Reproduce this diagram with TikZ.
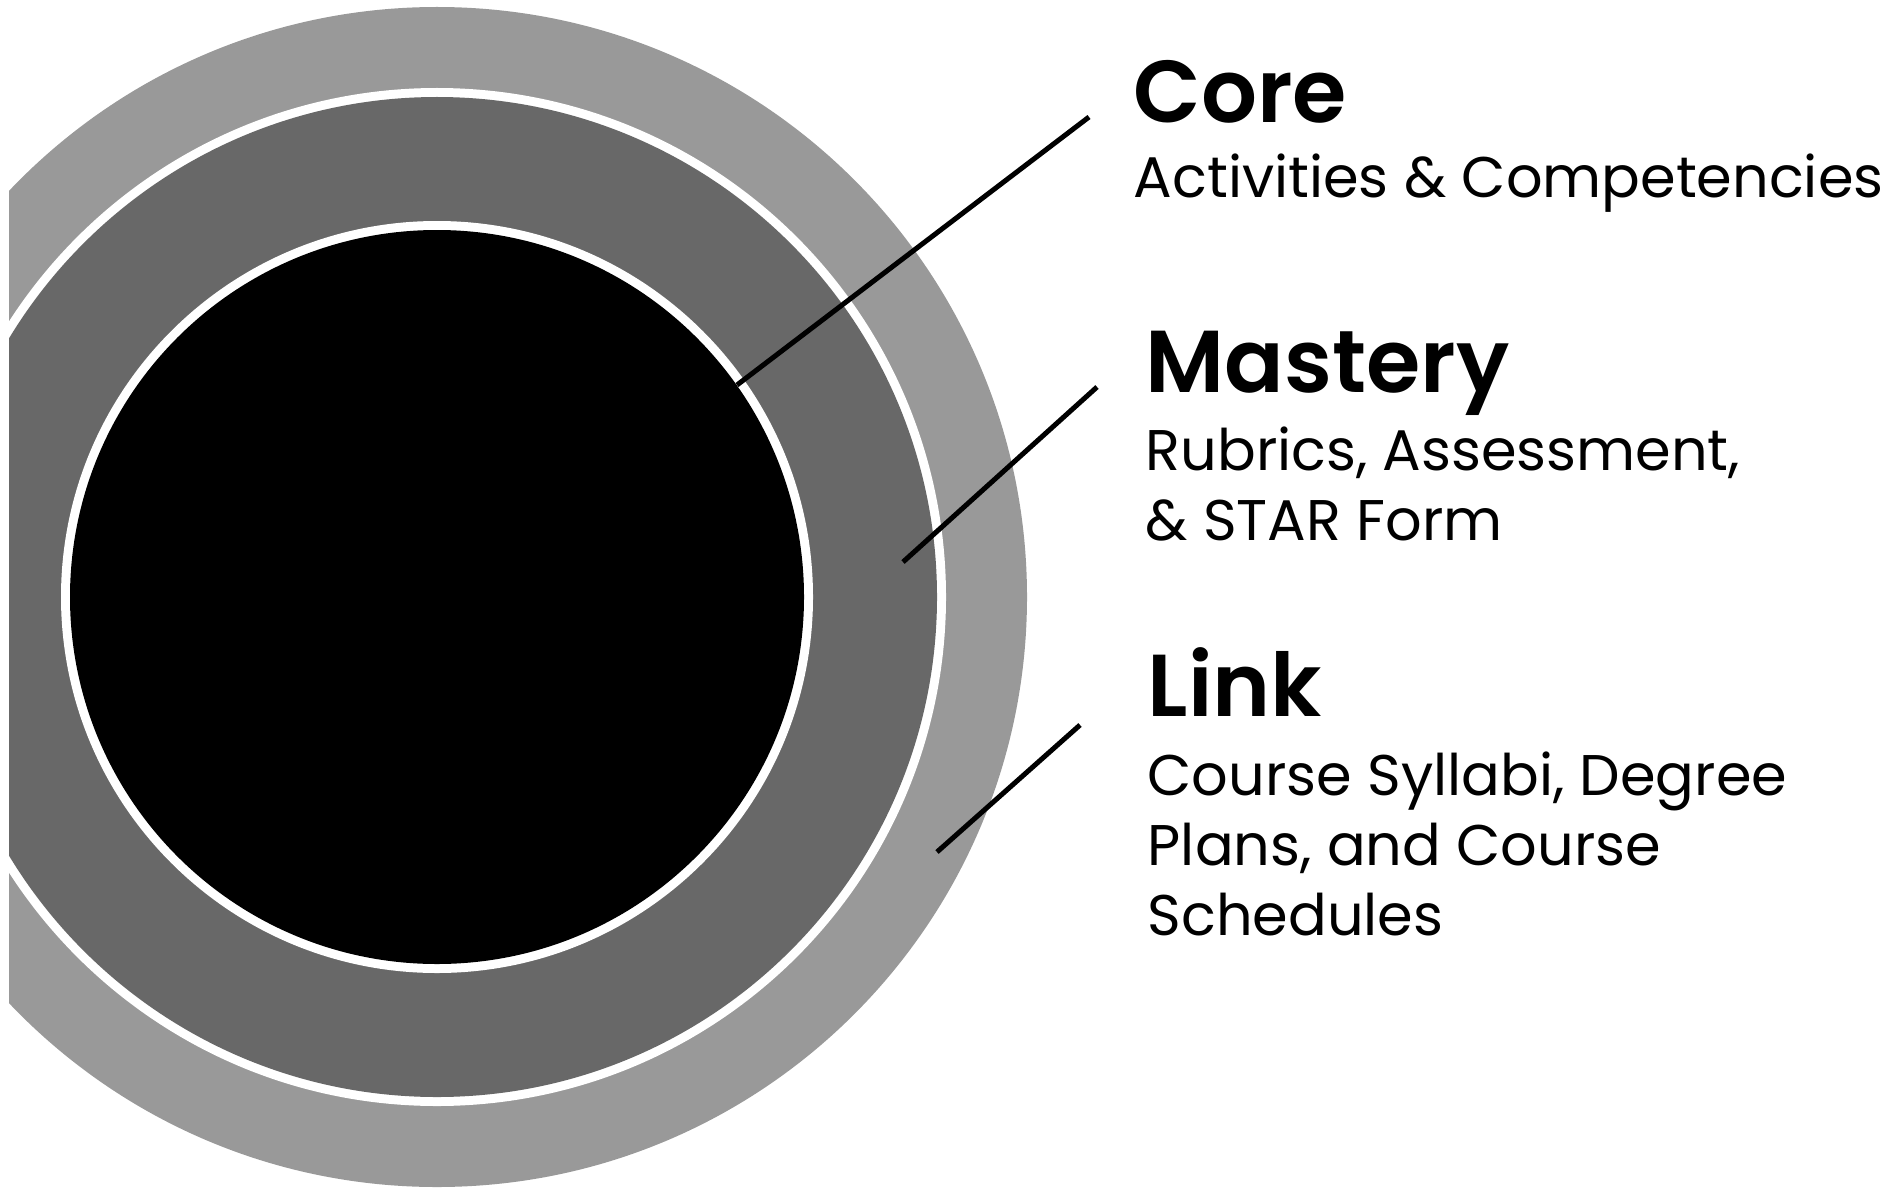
\documentclass[tikz,border=0pt]{standalone}
\usepackage{fontspec}
\setmainfont{Poppins}[BoldFont={Poppins SemiBold}]
\definecolor{ringlight}{RGB}{153,153,153}
\definecolor{ringdark}{RGB}{104,104,104}
\tikzset{
  head/.style={anchor=base west, inner sep=0pt, font=\bfseries\fontsize{25}{30}\selectfont},
  body/.style={anchor=base west, inner sep=0pt, align=left, font=\fontsize{16.3}{19.9}\selectfont},
  leader/.style={line width=1.42pt, black}
}
\begin{document}
\begin{tikzpicture}[x=0.01cm, y=-0.01cm]
    \useasboundingbox (0,0) rectangle (1904,1188);
    \begin{scope}
        \clip (9,0) rectangle (1904,1188);
        \fill[ringlight] (437,597) circle (590);
        \fill[white] (437,597) circle (509);
        \fill[ringdark] (437,597) circle (500);
        \fill[white] (437,597) circle (376);
        \fill[black] (437,597) circle (367);
    \end{scope}
    \node[head] (core) at (1133,123) {Core};
    \node[body] (coretxt) at (1133,198) {Activities \& Competencies};
    \node[head] (mastery) at (1145,392) {Mastery};
    \node[body] (masterytxt) at (1145,540) {Rubrics, Assessment,\\\& STAR Form};
    \node[head] (link) at (1147,716) {Link};
    \node[body] (linktxt) at (1147,935) {Course Syllabi, Degree\\Plans, and Course\\Schedules};
    \coordinate (corein) at (737,385);
    \coordinate (coreout) at (1089,117);
    \coordinate (masteryin) at (903,562);
    \coordinate (masteryout) at (1097,387);
    \coordinate (linkin) at (937,852);
    \coordinate (linkout) at (1080,725);
    \draw[leader] (corein) -- (coreout);
    \draw[leader] (masteryin) -- (masteryout);
    \draw[leader] (linkin) -- (linkout);
\end{tikzpicture}
\end{document}
